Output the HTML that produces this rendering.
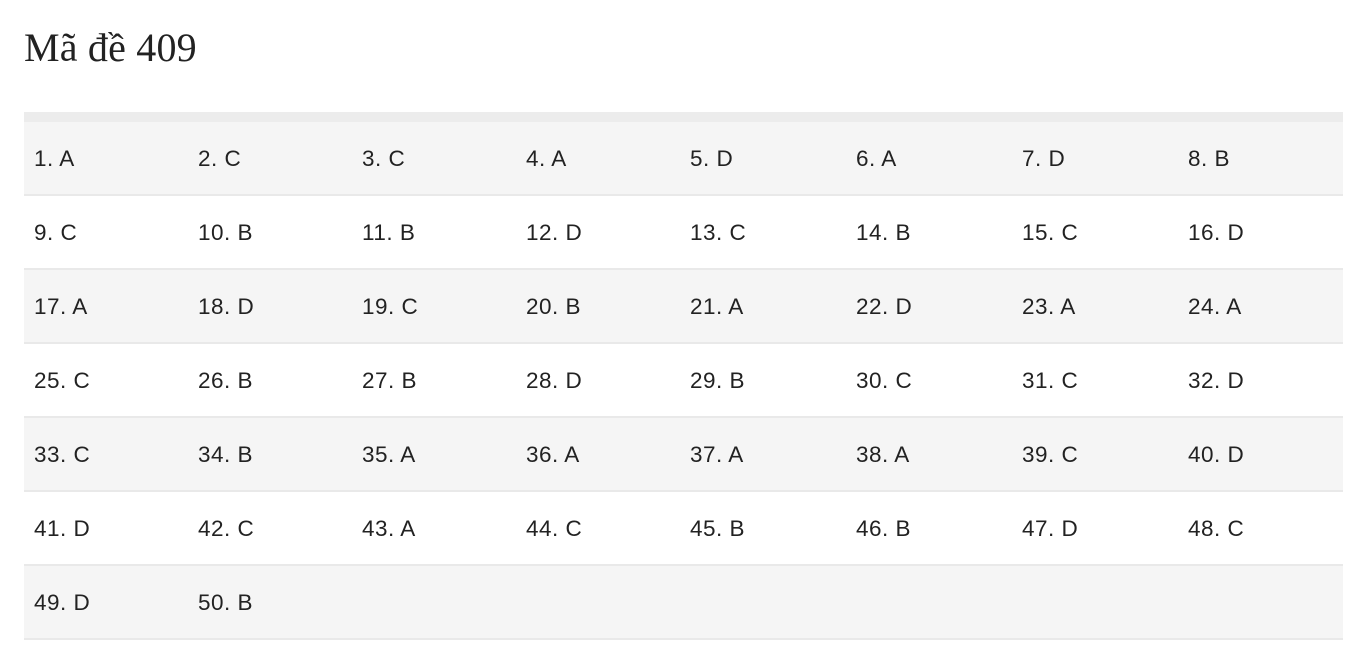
<!DOCTYPE html>
<html><head><meta charset="utf-8"><style>
body{margin:0;width:1350px;height:656px;background:#fff;overflow:hidden;font-family:"Liberation Sans",Arial,sans-serif;color:#222}
h1{position:absolute;left:24px;top:24px;margin:0;font:400 40px/48px "Liberation Serif",serif;color:#222;letter-spacing:0.2px}
.t{position:absolute;left:24px;top:112px;width:1319px;border-top:10px solid #ececec}
.r{height:72px;border-bottom:2px solid #e9e9e9;display:flex}
.r:nth-child(odd){background:#f5f5f5}
.c{width:164px;padding-left:10px;box-sizing:border-box;line-height:74px;font-size:22.5px;letter-spacing:0.5px}
.c:nth-child(5),.c:nth-child(6),.c:nth-child(7){width:166px}
</style></head><body>
<h1>Mã đề 409</h1>
<div class="t">
<div class="r"><div class="c">1. A</div><div class="c">2. C</div><div class="c">3. C</div><div class="c">4. A</div><div class="c">5. D</div><div class="c">6. A</div><div class="c">7. D</div><div class="c">8. B</div></div>
<div class="r"><div class="c">9. C</div><div class="c">10. B</div><div class="c">11. B</div><div class="c">12. D</div><div class="c">13. C</div><div class="c">14. B</div><div class="c">15. C</div><div class="c">16. D</div></div>
<div class="r"><div class="c">17. A</div><div class="c">18. D</div><div class="c">19. C</div><div class="c">20. B</div><div class="c">21. A</div><div class="c">22. D</div><div class="c">23. A</div><div class="c">24. A</div></div>
<div class="r"><div class="c">25. C</div><div class="c">26. B</div><div class="c">27. B</div><div class="c">28. D</div><div class="c">29. B</div><div class="c">30. C</div><div class="c">31. C</div><div class="c">32. D</div></div>
<div class="r"><div class="c">33. C</div><div class="c">34. B</div><div class="c">35. A</div><div class="c">36. A</div><div class="c">37. A</div><div class="c">38. A</div><div class="c">39. C</div><div class="c">40. D</div></div>
<div class="r"><div class="c">41. D</div><div class="c">42. C</div><div class="c">43. A</div><div class="c">44. C</div><div class="c">45. B</div><div class="c">46. B</div><div class="c">47. D</div><div class="c">48. C</div></div>
<div class="r"><div class="c">49. D</div><div class="c">50. B</div></div>
</div>
</body></html>
